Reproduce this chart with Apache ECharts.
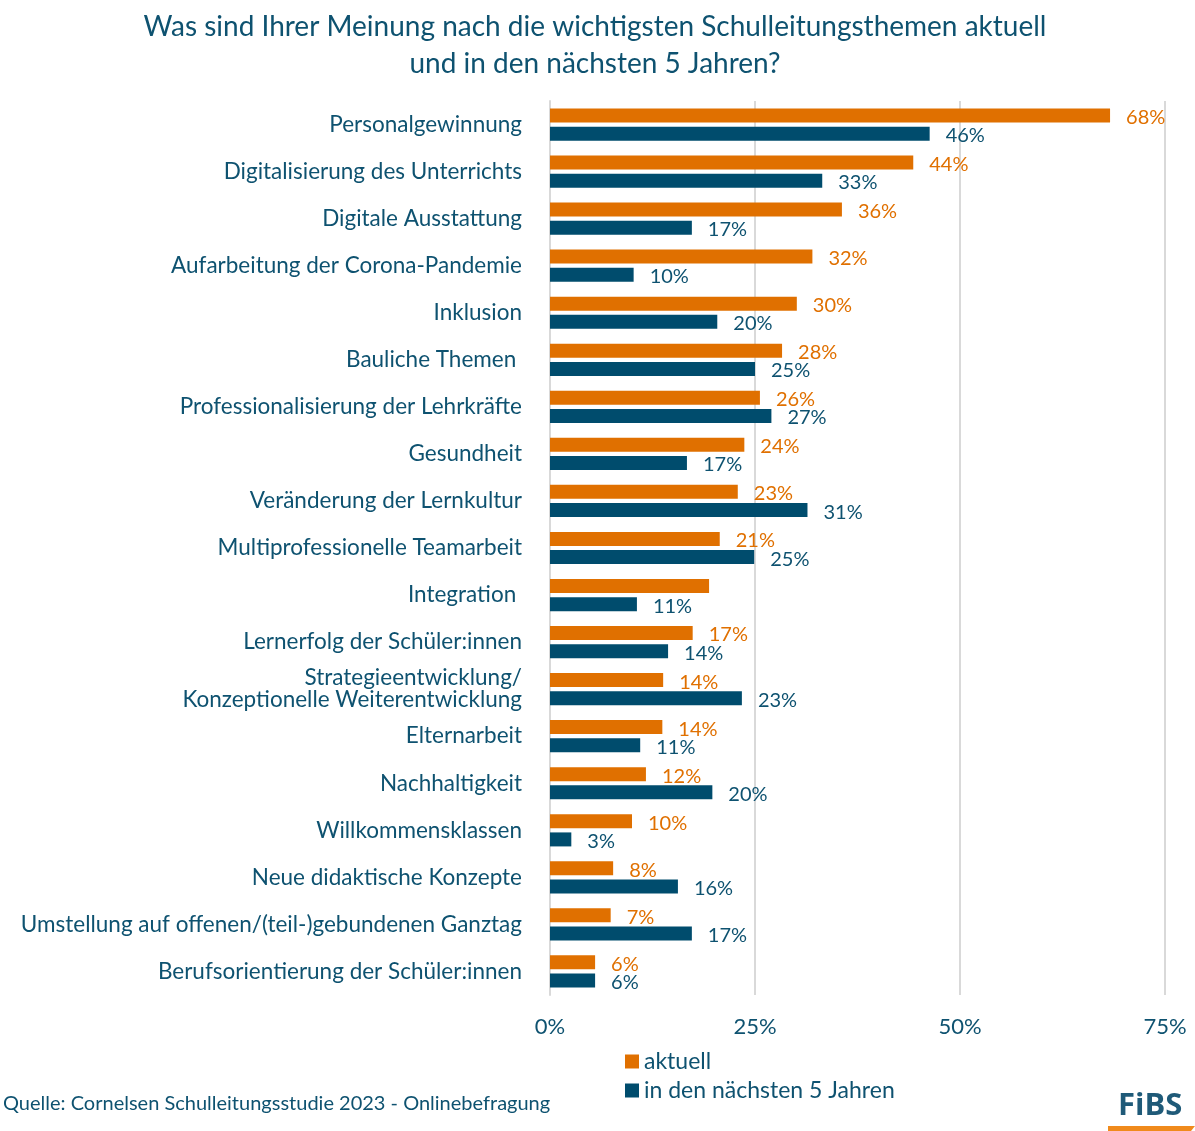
<!DOCTYPE html>
<html>
<head>
<meta charset="utf-8">
<script src="https://cdn.jsdelivr.net/npm/echarts@6/dist/echarts.min.js"></script>
<style>
  html, body { margin: 0; padding: 0; background: #fff; }
  #chart { width: 1195px; height: 1131px; }
</style>
</head>
<body>
<div id="chart"></div>
<script>
// Themen (von oben nach unten)
const categories = [
  'Personalgewinnung',
  'Digitalisierung des Unterrichts',
  'Digitale Ausstattung',
  'Aufarbeitung der Corona-Pandemie',
  'Inklusion',
  'Bauliche Themen ',
  'Professionalisierung der Lehrkräfte',
  'Gesundheit',
  'Veränderung der Lernkultur',
  'Multiprofessionelle Teamarbeit',
  'Integration ',
  'Lernerfolg der Schüler:innen',
  'Strategieentwicklung/\nKonzeptionelle Weiterentwicklung',
  'Elternarbeit',
  'Nachhaltigkeit',
  'Willkommensklassen',
  'Neue didaktische Konzepte',
  'Umstellung auf offenen/(teil-)gebundenen Ganztag',
  'Berufsorientierung der Schüler:innen'
];
const aktuell = [68.3, 44.3, 35.6, 32, 30.1, 28.3, 25.6, 23.7, 22.9, 20.7, 19.4, 17.4, 13.8, 13.7, 11.7, 10, 7.7, 7.4, 5.5];
const naechste5 = [46.3, 33.2, 17.3, 10.2, 20.4, 25, 27, 16.7, 31.4, 24.9, 10.6, 14.4, 23.4, 11, 19.8, 2.6, 15.6, 17.3, 5.5];
// Label bei Integration (aktuell) fehlt im Original
const aktuellHidden = ['Integration '];
const xTicks = [0, 25, 50, 75];

const orange = '#E07000';
const teal = '#004C6D';
const textColor = '#0E5270';
const font = 'Lato';

const chart = echarts.init(document.getElementById('chart'));

const option = {
  backgroundColor: '#fff',
  textStyle: { fontFamily: font },
  title: {
    text: 'Was sind Ihrer Meinung nach die wichtigsten Schulleitungsthemen aktuell\nund in den nächsten 5 Jahren?',
    left: 590,
    textAlign: 'center',
    top: 3,
    textStyle: { color: textColor, fontSize: 28, fontWeight: 'normal', lineHeight: 37, fontFamily: font }
  },
  legend: {
    orient: 'vertical',
    left: 620,
    top: 1045,
    itemWidth: 14,
    itemHeight: 14,
    itemGap: 6,
    icon: 'rect',
    textStyle: { color: textColor, fontSize: 23, fontFamily: font },
    data: ['aktuell', 'in den nächsten 5 Jahren']
  },
  grid: { left: 550, right: 30, top: 101, bottom: 136, containLabel: false },
  xAxis: {
    type: 'value',
    min: 0,
    max: 75,
    interval: 25,
    axisLine: { show: false },
    axisTick: { show: false },
    splitLine: { lineStyle: { color: '#D9D9D9', width: 2 } },
    axisLabel: {
      color: textColor,
      fontSize: 22,
      margin: 21,
      formatter: v => xTicks.includes(v) ? v + '%' : ''
    }
  },
  yAxis: {
    type: 'category',
    inverse: true,
    data: categories,
    axisLine: { show: true, lineStyle: { color: '#D9D9D9', width: 2 } },
    axisTick: { show: false },
    axisLabel: {
      color: textColor,
      fontSize: 22.5,
      margin: 28,
      lineHeight: 22,
      padding: [0, 0, 6, 0],
      fontFamily: font
    }
  },
  series: [
    {
      name: 'aktuell',
      type: 'bar',
      barWidth: 14,
      barGap: '30%',
      itemStyle: { color: orange },
      label: {
        show: true,
        position: 'right',
        distance: 16,
        offset: [0, 2],
        color: orange,
        fontSize: 20,
        fontFamily: font,
        formatter: p => aktuellHidden.includes(p.name) ? '' : Math.round(p.value) + '%'
      },
      data: aktuell
    },
    {
      name: 'in den nächsten 5 Jahren',
      type: 'bar',
      barWidth: 14,
      itemStyle: { color: teal },
      label: {
        show: true,
        position: 'right',
        distance: 16,
        offset: [0, 2],
        color: textColor,
        fontSize: 20,
        fontFamily: font,
        formatter: p => Math.round(p.value) + '%'
      },
      data: naechste5
    }
  ],
  graphic: [
    {
      type: 'text',
      left: 3,
      top: 1094,
      style: { text: 'Quelle: Cornelsen Schulleitungsstudie 2023 - Onlinebefragung', fill: textColor, font: '20px ' + font }
    },
    {
      type: 'text',
      left: 1118,
      top: 1091,
      style: { text: 'FiBS', fill: '#1F5A78', font: 'bold 31px "Open Sans"' }
    },
    {
      type: 'polygon',
      shape: { points: [[1108, 1126], [1195, 1126], [1191, 1131], [1108, 1131]] },
      style: { fill: '#F08A1C' }
    }
  ]
};

chart.setOption(option);
window.addEventListener('resize', () => chart.resize());
</script>
</body>
</html>
